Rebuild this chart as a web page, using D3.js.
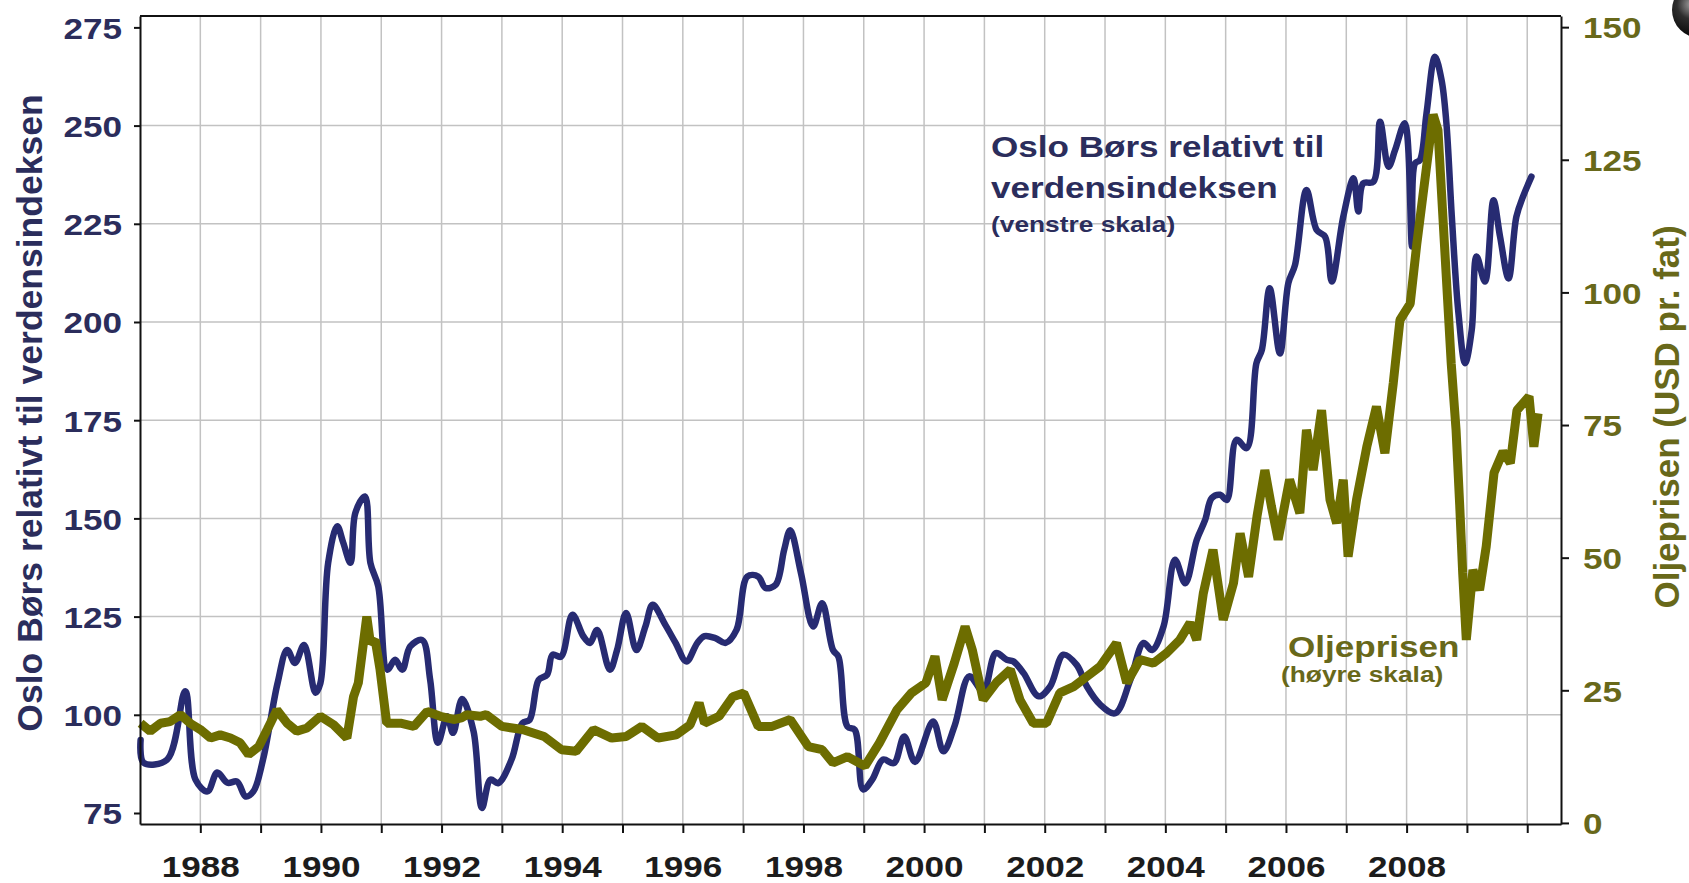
<!DOCTYPE html>
<html>
<head>
<meta charset="utf-8">
<script src="https://cdn.jsdelivr.net/npm/d3@7"></script>
<style>
  html, body { margin: 0; padding: 0; background: #fff; overflow: hidden; }
  svg { display: block; }
  text { font-family: "Liberation Sans", Arial, sans-serif; font-weight: bold; }
</style>
</head>
<body>
<svg id="chart" width="1689" height="883"></svg>
<script>
// ---- Data ----
const blueYears = [1987.01,1987.06,1987.45,1987.75,1987.92,1988.12,1988.28,1988.45,1988.61,1988.75,1988.88,
  1989.04,1989.28,1989.44,1989.57,1989.72,1989.91,1989.99,1990.12,1990.27,1990.37,1990.49,1990.57,1990.73,
  1990.82,1990.95,1991.10,1991.23,1991.35,1991.48,1991.68,1991.81,1991.94,1992.09,1992.19,1992.34,1992.53,
  1992.67,1992.81,1992.94,1993.16,1993.34,1993.46,1993.61,1993.75,1993.84,1993.98,1994.17,1994.35,1994.46,
  1994.58,1994.79,1994.91,1995.06,1995.23,1995.38,1995.50,1995.71,1995.88,1996.06,1996.24,1996.36,1996.54,
  1996.71,1996.89,1997.07,1997.25,1997.37,1997.54,1997.68,1997.78,1997.96,1998.16,1998.31,1998.49,1998.58,
  1998.73,1998.85,1998.99,1999.14,1999.32,1999.50,1999.67,1999.85,2000.15,2000.32,2000.51,2000.75,2000.98,
  2001.19,2001.37,2001.48,2001.65,2001.90,2002.09,2002.31,2002.53,2002.70,2002.92,2003.17,2003.42,2003.64,
  2003.78,2003.97,2004.16,2004.33,2004.52,2004.66,2004.77,2004.91,2005.02,2005.18,2005.35,2005.51,2005.60,
  2005.73,2005.90,2006.04,2006.15,2006.34,2006.51,2006.65,2006.76,2006.95,2007.12,2007.20,2007.28,2007.45,
  2007.56,2007.70,2007.81,2007.97,2008.09,2008.14,2008.22,2008.33,2008.47,2008.58,2008.66,2008.75,2008.86,
  2008.97,2009.08,2009.16,2009.30,2009.44,2009.55,2009.69,2009.82,2009.93,2010.07];
const blueValues = [93.6,87.8,88.6,106,83.5,80.5,85.3,82.7,83.0,79.2,80.5,
  88.6,108,116.5,113.2,117.8,105.6,108,138.7,148,143.8,138.7,151.4,155.6,
  138.7,132.7,111.5,114,111.5,117.4,119,109,92.9,99.6,95.4,104,95.8,
  76.3,83.5,82.6,88.6,97.9,98.7,108.9,110.2,115.3,114.8,125.5,120,118.3,
  121.6,111.5,116.5,125.9,116.5,122.5,128,122.9,118.3,113.6,118.3,120,119.5,
  118.3,121.6,135.2,135.2,132.3,133.1,142,147,136,122.5,128.4,116.5,114.8,
  97,96.2,81,83.5,88.6,87.7,94.5,88,98.3,90.7,97.4,109.8,106,
  115.7,114,113.6,110.6,104.7,107.2,115.3,112.7,107.2,102.6,100.4,108.9,118.3,
  116.5,122.5,139.5,133.5,144.5,149.6,155.2,156,154.7,170,167.9,189.5,192.9,
  208.6,192,209.9,214.5,233.6,223.4,221.7,210.3,226.8,236.6,228.1,235.3,235.7,
  251,239.5,243.8,250.6,219.2,240.4,241.2,253.1,267.5,261.6,250.6,226.8,202.2,
  189.5,198,216.7,210.3,231,221.7,211.1,226.8,231.9,237];

const oilYears = [1987.01,1987.17,1987.34,1987.50,1987.67,1987.83,1988.00,1988.17,1988.33,1988.50,1988.66,
  1988.80,1988.97,1989.11,1989.27,1989.44,1989.60,1989.77,1989.99,1990.21,1990.43,1990.54,1990.62,1990.76,
  1990.82,1990.90,1990.98,1991.09,1991.32,1991.54,1991.76,1991.98,1992.20,1992.33,1992.42,1992.64,1992.74,
  1993.00,1993.34,1993.70,1993.99,1994.23,1994.52,1994.82,1995.06,1995.32,1995.59,1995.89,1996.12,1996.27,
  1996.36,1996.60,1996.83,1997.01,1997.25,1997.48,1997.78,1998.08,1998.31,1998.49,1998.73,1999.02,1999.26,
  1999.55,1999.79,2000.03,2000.18,2000.30,2000.50,2000.68,2000.80,2000.98,2001.20,2001.43,2001.59,2001.81,
  2002.03,2002.25,2002.48,2002.70,2002.92,2003.19,2003.36,2003.58,2003.80,2004.02,2004.24,2004.41,2004.52,
  2004.63,2004.79,2004.96,2005.13,2005.24,2005.38,2005.52,2005.65,2005.76,2005.87,2006.06,2006.23,2006.34,
  2006.45,2006.59,2006.73,2006.84,2006.95,2007.03,2007.17,2007.34,2007.50,2007.64,2007.78,2007.89,2008.06,
  2008.17,2008.31,2008.44,2008.52,2008.63,2008.74,2008.82,2008.88,2008.93,2008.99,2009.10,2009.21,2009.32,
  2009.45,2009.60,2009.72,2009.83,2010.03,2010.11,2010.18];
const oilValues = [18.8,17.3,18.8,19.1,20.4,18.8,17.6,16.0,16.6,16.0,15.1,
  12.9,14.4,17.6,21.3,18.8,17.3,17.9,20.1,18.5,16.0,23.8,26.4,38.9,
  33.9,34.5,28.9,18.8,18.8,18.2,21.0,20.1,19.5,19.8,20.4,20.1,20.4,
  18.2,17.6,16.3,13.8,13.5,17.6,16.0,16.3,18.2,16.0,16.6,18.5,22.6,
  18.8,20.1,23.8,24.5,18.2,18.2,19.5,14.4,13.8,11.3,12.5,10.7,15.1,
  21.3,24.5,26.4,31.4,23.2,30.1,37.0,32.6,23.2,26.5,28.9,23.2,18.8,
  18.8,24.5,25.7,27.6,29.5,33.9,26.4,30.8,30.1,32.0,34.5,37.7,34.5,
  43.3,51.5,38.3,45.2,54.6,46.4,57.8,66.5,59.6,53.4,64.7,58.4,74.1,
  66.5,77.8,60.9,56.5,64.7,50.2,60.9,70.9,78.5,69.7,83.0,94.8,97.9,
  109.2,121.8,133.5,130.6,108.6,86.6,74.1,60.0,47.1,34.5,47.7,43.9,52.1,
  66.0,70.0,67.8,77.8,80.4,70.9,77.2];

const leftTicks = [75,100,125,150,175,200,225,250,275];
const leftGrid = [100,125,150,175,200,225,250];
const rightTicks = [0,25,50,75,100,125,150];
const yearTicks = d3.range(1988, 2011);
const yearLabels = [1988,1990,1992,1994,1996,1998,2000,2002,2004,2006,2008];

const leftTitle = "Oslo Børs relativt til verdensindeksen";
const rightTitle = "Oljeprisen (USD pr. fat)";
const blueNote = ["Oslo Børs relativt til", "verdensindeksen", "(venstre skala)"];
const oilNote = ["Oljeprisen", "(høyre skala)"];

// ---- Layout ----
const L = 140, R = 1561, T = 16, B = 824;
const SX = 1.17; // horizontal stretch of text in the reference
const BLUE = "#272b72", OLIVE = "#6d6d00";
const BLUE_TXT = "#2b2d5c", OLIVE_TXT = "#68681a";

const svg = d3.select("#chart");

const x = d3.scaleLinear().domain([1987.0, 2010.56]).range([L, R]);
const yL = d3.scaleLinear().domain([72.2, 277.9]).range([B, T]);
const yR = d3.scaleLinear().domain([-0.2, 152.1]).range([B, T]);

// gridlines
const grid = svg.append("g");
grid.selectAll("line.v").data(yearTicks).join("line")
  .attr("x1", d => x(d)).attr("x2", d => x(d)).attr("y1", T).attr("y2", B)
  .attr("stroke", "#c2c2c2").attr("stroke-width", 1.5);
grid.selectAll("line.h").data(leftGrid).join("line")
  .attr("x1", L).attr("x2", R).attr("y1", d => yL(d)).attr("y2", d => yL(d))
  .attr("stroke", "#c2c2c2").attr("stroke-width", 1.5);

// lines
const blueData = blueYears.map((t, i) => [t, blueValues[i]]);
const oilData = oilYears.map((t, i) => [t, oilValues[i]]);

svg.append("path").datum(blueData)
  .attr("fill", "none").attr("stroke", BLUE).attr("stroke-width", 6.5)
  .attr("stroke-linejoin", "round").attr("stroke-linecap", "round")
  .attr("d", d3.line().curve(d3.curveCatmullRom.alpha(0.5)).x(d => x(d[0])).y(d => yL(d[1])));

svg.append("path").datum(oilData)
  .attr("fill", "none").attr("stroke", OLIVE).attr("stroke-width", 9)
  .attr("stroke-linejoin", "bevel")
  .attr("d", d3.line().x(d => x(d[0])).y(d => yR(d[1])));

// axes
function styleAxis(g) {
  g.select(".domain").attr("stroke", "#111").attr("stroke-width", 2);
  g.selectAll(".tick line").attr("stroke", "#111").attr("stroke-width", 2);
}

const gLeft = svg.append("g").attr("transform", `translate(${L},0)`)
  .call(d3.axisLeft(yL).tickValues(leftTicks).tickSize(6).tickSizeOuter(0).tickFormat(d3.format("d")));
styleAxis(gLeft);
gLeft.selectAll(".tick text")
  .attr("x", 0).attr("dy", "0.36em").attr("text-anchor", "end")
  .attr("transform", `translate(-18,0) scale(${SX},1)`)
  .attr("fill", BLUE_TXT).style("font-size", "30px").style("font-family", "'Liberation Sans', Arial, sans-serif").style("font-weight", "bold");

const gRight = svg.append("g").attr("transform", `translate(${R},0)`)
  .call(d3.axisRight(yR).tickValues(rightTicks).tickSize(8).tickSizeOuter(0).tickFormat(d3.format("d")));
styleAxis(gRight);
gRight.selectAll(".tick text")
  .attr("x", 0).attr("dy", "0.36em").attr("text-anchor", "start")
  .attr("transform", `translate(22,0) scale(${SX},1)`)
  .attr("fill", OLIVE_TXT).style("font-size", "30px").style("font-family", "'Liberation Sans', Arial, sans-serif").style("font-weight", "bold");

const gBottom = svg.append("g").attr("transform", `translate(0,${B})`)
  .call(d3.axisBottom(x).tickValues(yearTicks).tickSize(9).tickSizeOuter(0)
    .tickFormat(d => yearLabels.includes(d) ? String(d) : ""));
styleAxis(gBottom);
gBottom.selectAll(".tick text")
  .attr("y", 0).attr("dy", 0).attr("text-anchor", "middle")
  .attr("transform", `translate(0,53) scale(${SX},1)`)
  .attr("fill", "#1c1c1c").style("font-size", "30px").style("font-family", "'Liberation Sans', Arial, sans-serif").style("font-weight", "bold");

// top border
svg.append("line").attr("x1", L).attr("x2", R).attr("y1", T).attr("y2", T)
  .attr("stroke", "#111").attr("stroke-width", 2);

// axis titles
svg.append("text").attr("transform", "translate(42,413) rotate(-90)")
  .attr("text-anchor", "middle").attr("fill", BLUE_TXT).style("font-size", "35.5px")
  .text(leftTitle);
svg.append("text").attr("transform", "translate(1679,417) rotate(-90)")
  .attr("text-anchor", "middle").attr("fill", OLIVE_TXT).style("font-size", "35px")
  .text(rightTitle);

// annotations
const notesBlue = [
  {t: blueNote[0], x: 991, y: 157, s: 30},
  {t: blueNote[1], x: 991, y: 198, s: 30},
  {t: blueNote[2], x: 991, y: 232, s: 22.5}
];
svg.selectAll("text.nb").data(notesBlue).join("text")
  .attr("transform", d => `translate(${d.x},${d.y}) scale(${SX},1)`)
  .attr("fill", BLUE_TXT).style("font-size", d => d.s + "px").text(d => d.t);

const notesOil = [
  {t: oilNote[0], x: 1288, y: 657, s: 30},
  {t: oilNote[1], x: 1281, y: 682, s: 22.5}
];
svg.selectAll("text.no").data(notesOil).join("text")
  .attr("transform", d => `translate(${d.x},${d.y}) scale(${SX},1)`)
  .attr("fill", OLIVE_TXT).style("font-size", d => d.s + "px").text(d => d.t);

// partial logo sphere at top-right corner
const defs = svg.append("defs");
const rg = defs.append("radialGradient").attr("id", "sph").attr("cx", "35%").attr("cy", "40%").attr("r", "65%");
rg.append("stop").attr("offset", "0%").attr("stop-color", "#a0a0a0");
rg.append("stop").attr("offset", "40%").attr("stop-color", "#2e2e2e");
rg.append("stop").attr("offset", "100%").attr("stop-color", "#000");
svg.append("circle").attr("cx", 1700).attr("cy", 10).attr("r", 28).attr("fill", "url(#sph)");
</script>
</body>
</html>
